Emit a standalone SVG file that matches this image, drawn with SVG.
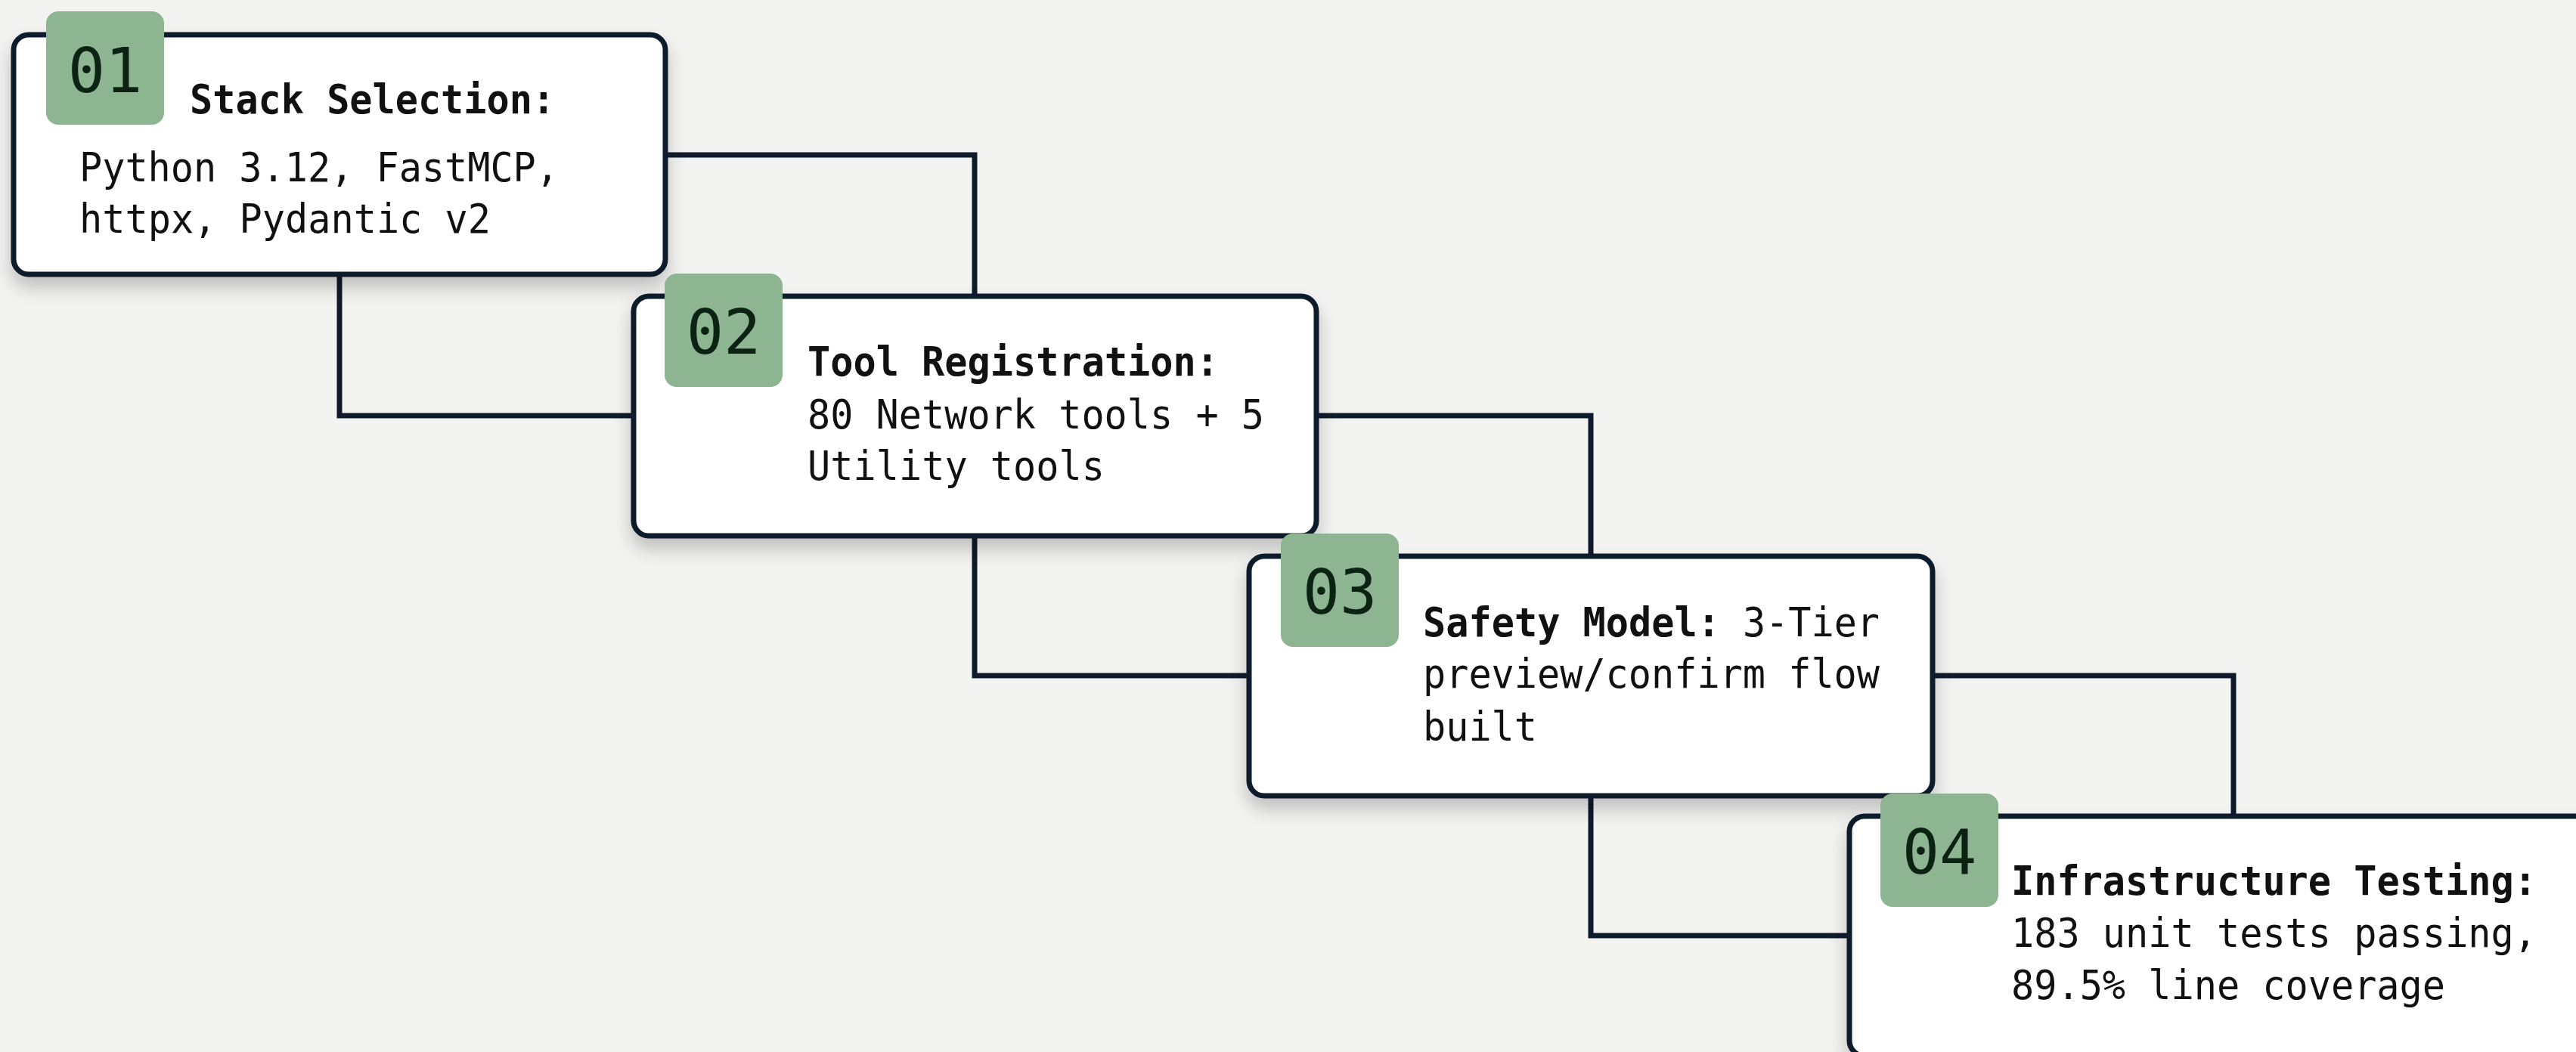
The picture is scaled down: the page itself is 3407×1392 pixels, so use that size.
<svg xmlns="http://www.w3.org/2000/svg" width="3407" height="1392" viewBox="0 0 3407 1392">
  <defs>
    <filter id="cardShadow" x="-10%" y="-20%" width="120%" height="150%">
      <feDropShadow dx="0" dy="14" stdDeviation="12" flood-color="#000000" flood-opacity="0.22"/>
    </filter>
    <style>
      .card { fill: #ffffff; stroke: #0f1a2c; stroke-width: 7; filter: url(#cardShadow); }
      .badge { fill: #8db592; }
      .num { font-family: "DejaVu Sans Mono", "Liberation Mono", monospace; font-size: 82px; fill: #0c2314; text-anchor: middle; }
      .txt { font-family: "DejaVu Sans Mono", "Liberation Mono", monospace; font-size: 54px; fill: #111111; }
      .b { font-weight: bold; }
      .wire { fill: none; stroke: #0f1a2c; stroke-width: 7; stroke-linejoin: miter; }
    </style>
  </defs>

  <rect x="0" y="0" width="3407" height="1392" fill="#f3f3f1"/>

  <!-- elbow connectors between consecutive steps -->
  <g id="connectors">
    <path class="wire" d="M880 205 H1289 V392"/>
    <path class="wire" d="M449 363 V550 H838"/>
    <path class="wire" d="M1741 550 H2104 V736"/>
    <path class="wire" d="M1289 709 V894 H1652"/>
    <path class="wire" d="M2556 894 H2954 V1080"/>
    <path class="wire" d="M2104 1053 V1238 H2446"/>
  </g>

  <g id="step-01">
    <rect class="card" x="18" y="46" width="862" height="317" rx="20"/>
    <rect class="badge" x="61" y="15" width="156" height="150" rx="16"/>
    <text class="num" x="139" y="122">01</text>
    <text class="txt b" x="251" y="150" textLength="483" lengthAdjust="spacingAndGlyphs">Stack Selection:</text>
    <text class="txt" x="105" y="240" textLength="634" lengthAdjust="spacingAndGlyphs">Python 3.12, FastMCP,</text>
    <text class="txt" x="105" y="308" textLength="544" lengthAdjust="spacingAndGlyphs">httpx, Pydantic v2</text>
  </g>

  <g id="step-02">
    <rect class="card" x="838" y="392" width="903" height="317" rx="20"/>
    <rect class="badge" x="879" y="362" width="156" height="150" rx="16"/>
    <text class="num" x="957" y="468">02</text>
    <text class="txt b" x="1068" y="497" textLength="544" lengthAdjust="spacingAndGlyphs">Tool Registration:</text>
    <text class="txt" x="1068" y="567" textLength="604" lengthAdjust="spacingAndGlyphs">80 Network tools + 5</text>
    <text class="txt" x="1068" y="635" textLength="393" lengthAdjust="spacingAndGlyphs">Utility tools</text>
  </g>

  <g id="step-03">
    <rect class="card" x="1652" y="736" width="904" height="317" rx="20"/>
    <rect class="badge" x="1694" y="706" width="156" height="150" rx="16"/>
    <text class="num" x="1772" y="812">03</text>
    <text class="txt b" x="1882" y="842" textLength="393" lengthAdjust="spacingAndGlyphs">Safety Model:</text>
    <text class="txt" x="2305" y="842" textLength="181" lengthAdjust="spacingAndGlyphs">3-Tier</text>
    <text class="txt" x="1882" y="910" textLength="604" lengthAdjust="spacingAndGlyphs">preview/confirm flow</text>
    <text class="txt" x="1882" y="980" textLength="151" lengthAdjust="spacingAndGlyphs">built</text>
  </g>

  <g id="step-04">
    <rect class="card" x="2446" y="1080" width="1016" height="317" rx="20"/>
    <rect class="badge" x="2487" y="1050" width="156" height="150" rx="16"/>
    <text class="num" x="2565" y="1156">04</text>
    <text class="txt b" x="2660" y="1184" textLength="695" lengthAdjust="spacingAndGlyphs">Infrastructure Testing:</text>
    <text class="txt" x="2660" y="1253" textLength="695" lengthAdjust="spacingAndGlyphs">183 unit tests passing,</text>
    <text class="txt" x="2660" y="1322" textLength="574" lengthAdjust="spacingAndGlyphs">89.5% line coverage</text>
  </g>
</svg>
